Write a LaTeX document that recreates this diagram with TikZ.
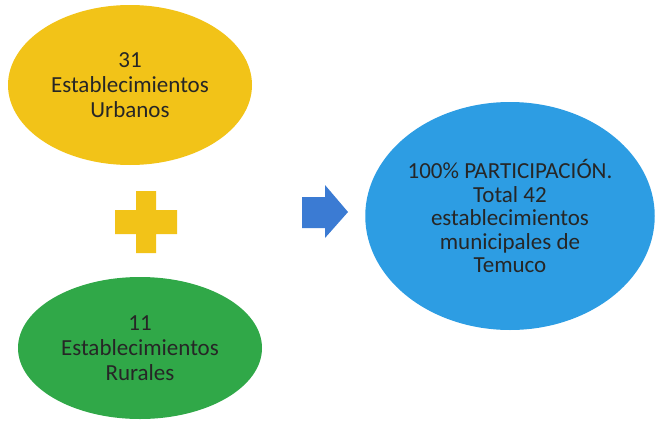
\documentclass[tikz,border=0pt]{standalone}
\usepackage{fontspec}
\setmainfont{Carlito}
\usetikzlibrary{shapes.geometric}

\definecolor{urbano}{HTML}{F2C318}
\definecolor{rural}{HTML}{30A848}
\definecolor{total}{HTML}{2D9DE3}
\definecolor{flecha}{HTML}{3B7BD3}
\definecolor{texto}{HTML}{262626}

\begin{document}
\begin{tikzpicture}[x=1pt,y=-1pt,
				blob/.style={ellipse,inner sep=0pt,align=center,text=texto,
					font=\fontsize{23}{25}\selectfont}]
				\useasboundingbox (0,0) rectangle (656,423);
				
				% Establecimientos
				\node[blob,fill=urbano,minimum width=244pt,minimum height=160pt] (urbanos) at (130,85) {31\\Establecimientos\\Urbanos};
				\node[blob,fill=rural,minimum width=244pt,minimum height=142pt] (rurales) at (140,348) {11\\Establecimientos\\Rurales};
				\node[blob,fill=total,minimum width=286pt,minimum height=228pt,
					font=\fontsize{23}{23.5}\selectfont] (total) at (510,216) {100\% PARTICIPACIÓN.\\Total 42\\establecimientos\\municipales de\\Temuco};
				
				% Signo mas
				\fill[urbano] (136,191) -- (156,191) -- (156,210) -- (177,210) -- (177,234) -- (156,234)
					-- (156,253) -- (136,253) -- (136,234) -- (115,234) -- (115,210) -- (136,210) -- cycle;
				
				% Flecha
				\fill[flecha] (302,197) -- (325,197) -- (325,185) -- (348,212) -- (325,238) -- (325,228) -- (302,228) -- cycle;
			\end{tikzpicture}
\end{document}
